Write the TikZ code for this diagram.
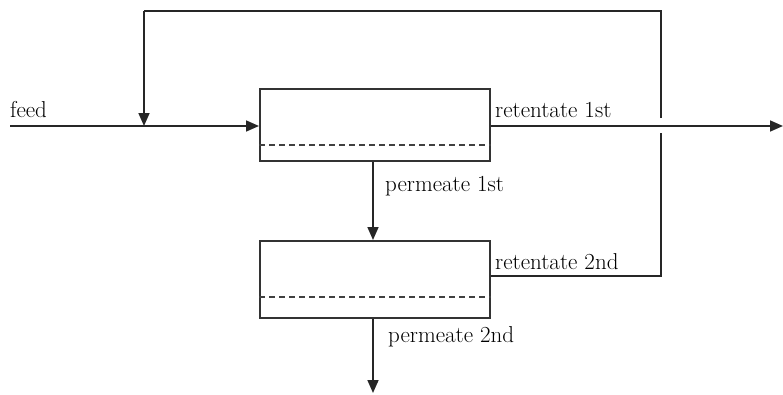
\documentclass[tikz,border=0pt]{standalone}
\usetikzlibrary{arrows.meta}
\begin{document}
\begin{tikzpicture}[x=1pt,y=-1pt,
  flow/.style={line width=1.7pt,draw=black!85},
  arr/.style={flow,-{Triangle[length=13pt,width=11pt]}},
  unit/.style={draw=black!80,line width=1.6pt,minimum width=230pt,inner sep=0pt,anchor=north west},
  dashln/.style={line width=1.4pt,draw=black!75,dash pattern=on 6pt off 4pt},
  lbl/.style={font=\fontsize{23}{27}\selectfont,anchor=base west,inner sep=0pt}]
\useasboundingbox (0,0) rectangle (783,394);
% membrane units
\node[unit,minimum height=72pt] (m1) at (259,88) {};
\node[unit,minimum height=77pt] (m2) at (259,240) {};
\draw[dashln] (m1.west|-0,145) -- (m1.east|-0,145);
\draw[dashln] (m2.west|-0,297) -- (m2.east|-0,297);
% coordinates
\coordinate (feedin) at (10,126);
\coordinate (mix) at (144,126);
\coordinate (topL) at (144,11);
\coordinate (topR) at (661,11);
\coordinate (r2R) at (661,276);
\coordinate (gapT) at (661,118);
\coordinate (gapB) at (661,133);
\coordinate (out1) at (783,126);
\coordinate (out2) at (373,393);
% feed
\draw[flow] (feedin) -- (mix);
\draw[arr] (mix) -- (m1.west|-mix);
% retentate 1st
\draw[arr] (m1.east|-mix) -- (out1);
% permeate 1st
\draw[arr] (m1.south-|373,0) -- (m2.north-|373,0);
% permeate 2nd
\draw[arr] (m2.south-|373,0) -- (out2);
% recycle of retentate 2nd
\draw[flow] (m2.east|-r2R) -- (r2R) -- (gapB);
\draw[flow] (gapT) -- (topR) -- (topL);
\draw[arr] (topL) -- (mix);
% labels
\node[lbl] (tfeed) at (10,117) {feed};
\node[lbl] (tr1) at (495,117) {retentate 1st};
\node[lbl] (tp1) at (385,191) {permeate 1st};
\node[lbl] (tr2) at (495,269) {retentate 2nd};
\node[lbl] (tp2) at (388,342) {permeate 2nd};
\end{tikzpicture}
\end{document}
